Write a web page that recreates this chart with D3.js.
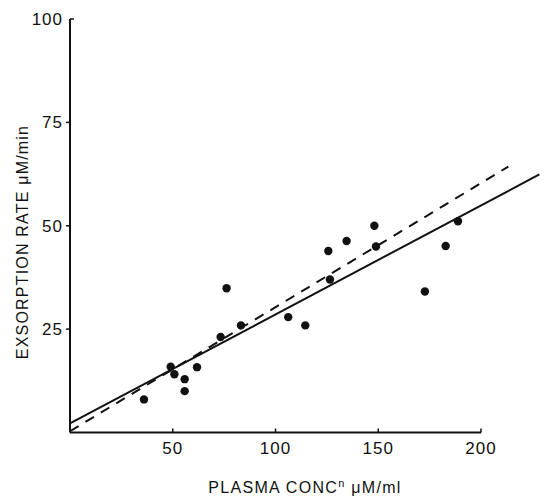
<!DOCTYPE html>
<html>
<head>
<meta charset="utf-8">
<script src="https://cdn.jsdelivr.net/npm/d3@7"></script>
<style>
  html, body { margin: 0; padding: 0; background: #fff; }
  svg { display: block; }
  text { font-family: "Liberation Sans", Arial, sans-serif; fill: #111; }
</style>
</head>
<body>
<svg id="chart" width="546" height="500"></svg>
<script>
// Data
const plasmaConc = [36.0, 49.0, 50.8, 55.8, 55.8, 61.8, 73.3, 76.2, 83.2, 106.2, 114.5, 125.7, 126.5, 134.6, 148.1, 148.9, 172.7, 182.8, 188.8];
const exsorptionRate = [8.0, 15.9, 14.1, 12.9, 10.0, 15.8, 23.1, 34.9, 25.9, 27.9, 25.9, 43.9, 37.0, 46.3, 50.0, 45.0, 34.1, 45.1, 51.1];
const solidLine = { x: [0, 228.4], y: [2.2, 62.4] };
const dashedLine = { x: [0, 213.3], y: [0.3, 64.3] };
const xTicks = [50, 100, 150, 200];
const yTicks = [25, 50, 75, 100];
const xTickLabels = ["50", "100", "150", "200"];
const yTickLabels = ["25", "50", "75", "100"];

const svg = d3.select("#chart");
const x = d3.scaleLinear().domain([0, 200]).range([70, 481]);
const y = d3.scaleLinear().domain([0, 100]).range([432.5, 19]);

const ink = "#111";

// Axes lines
svg.append("line").attr("x1", x(0)).attr("x2", x(200)).attr("y1", y(0)).attr("y2", y(0))
  .attr("stroke", ink).attr("stroke-width", 2);
svg.append("line").attr("x1", x(0)).attr("x2", x(0)).attr("y1", y(0)).attr("y2", y(100))
  .attr("stroke", ink).attr("stroke-width", 2);

// X ticks (pointing up / inside)
svg.selectAll(".xt").data(xTicks).enter().append("line")
  .attr("x1", d => x(d)).attr("x2", d => x(d))
  .attr("y1", y(0)).attr("y2", y(0) - 4)
  .attr("stroke", ink).attr("stroke-width", 1.5);
svg.selectAll(".xl").data(xTicks).enter().append("text")
  .attr("x", d => x(d)).attr("y", y(0) + 21)
  .attr("text-anchor", "middle").attr("font-size", 17).attr("letter-spacing", 1)
  .text((d, i) => xTickLabels[i]);

// Y ticks: left for 25-75, right for 100
svg.selectAll(".yt").data(yTicks).enter().append("line")
  .attr("x1", x(0)).attr("x2", d => d === 100 ? x(0) + 4 : x(0) - 4)
  .attr("y1", d => y(d)).attr("y2", d => y(d))
  .attr("stroke", ink).attr("stroke-width", 1.5);
svg.selectAll(".yl").data(yTicks).enter().append("text")
  .attr("x", 63)
  .attr("y", d => y(d) + 6)
  .attr("text-anchor", "end").attr("font-size", 17).attr("letter-spacing", 1)
  .text((d, i) => yTickLabels[i]);

// Regression lines
const lineGen = d3.line().x(d => x(d[0])).y(d => y(d[1]));
svg.append("path")
  .attr("d", lineGen(d3.zip(solidLine.x, solidLine.y)))
  .attr("stroke", ink).attr("stroke-width", 2).attr("fill", "none");
svg.append("path")
  .attr("d", lineGen(d3.zip(dashedLine.x, dashedLine.y)))
  .attr("stroke", ink).attr("stroke-width", 2).attr("fill", "none")
  .attr("stroke-dasharray", "10,8");

// Points
svg.selectAll(".pt").data(d3.zip(plasmaConc, exsorptionRate)).enter().append("circle")
  .attr("cx", d => x(d[0])).attr("cy", d => y(d[1])).attr("r", 4.2)
  .attr("fill", ink);

// Axis titles
const xt = svg.append("text").attr("x", 305).attr("y", 493)
  .attr("text-anchor", "middle").attr("font-size", 16).attr("letter-spacing", 1.3);
xt.append("tspan").text("PLASMA  CONC");
xt.append("tspan").attr("dy", -6).attr("font-size", 11).text("n");
xt.append("tspan").attr("dy", 6).text(" μM/ml");

svg.append("text")
  .attr("transform", "translate(28,242) rotate(-90)")
  .attr("text-anchor", "middle").attr("font-size", 16).attr("letter-spacing", 1.2)
  .text("EXSORPTION  RATE μM/min");
</script>
</body>
</html>
